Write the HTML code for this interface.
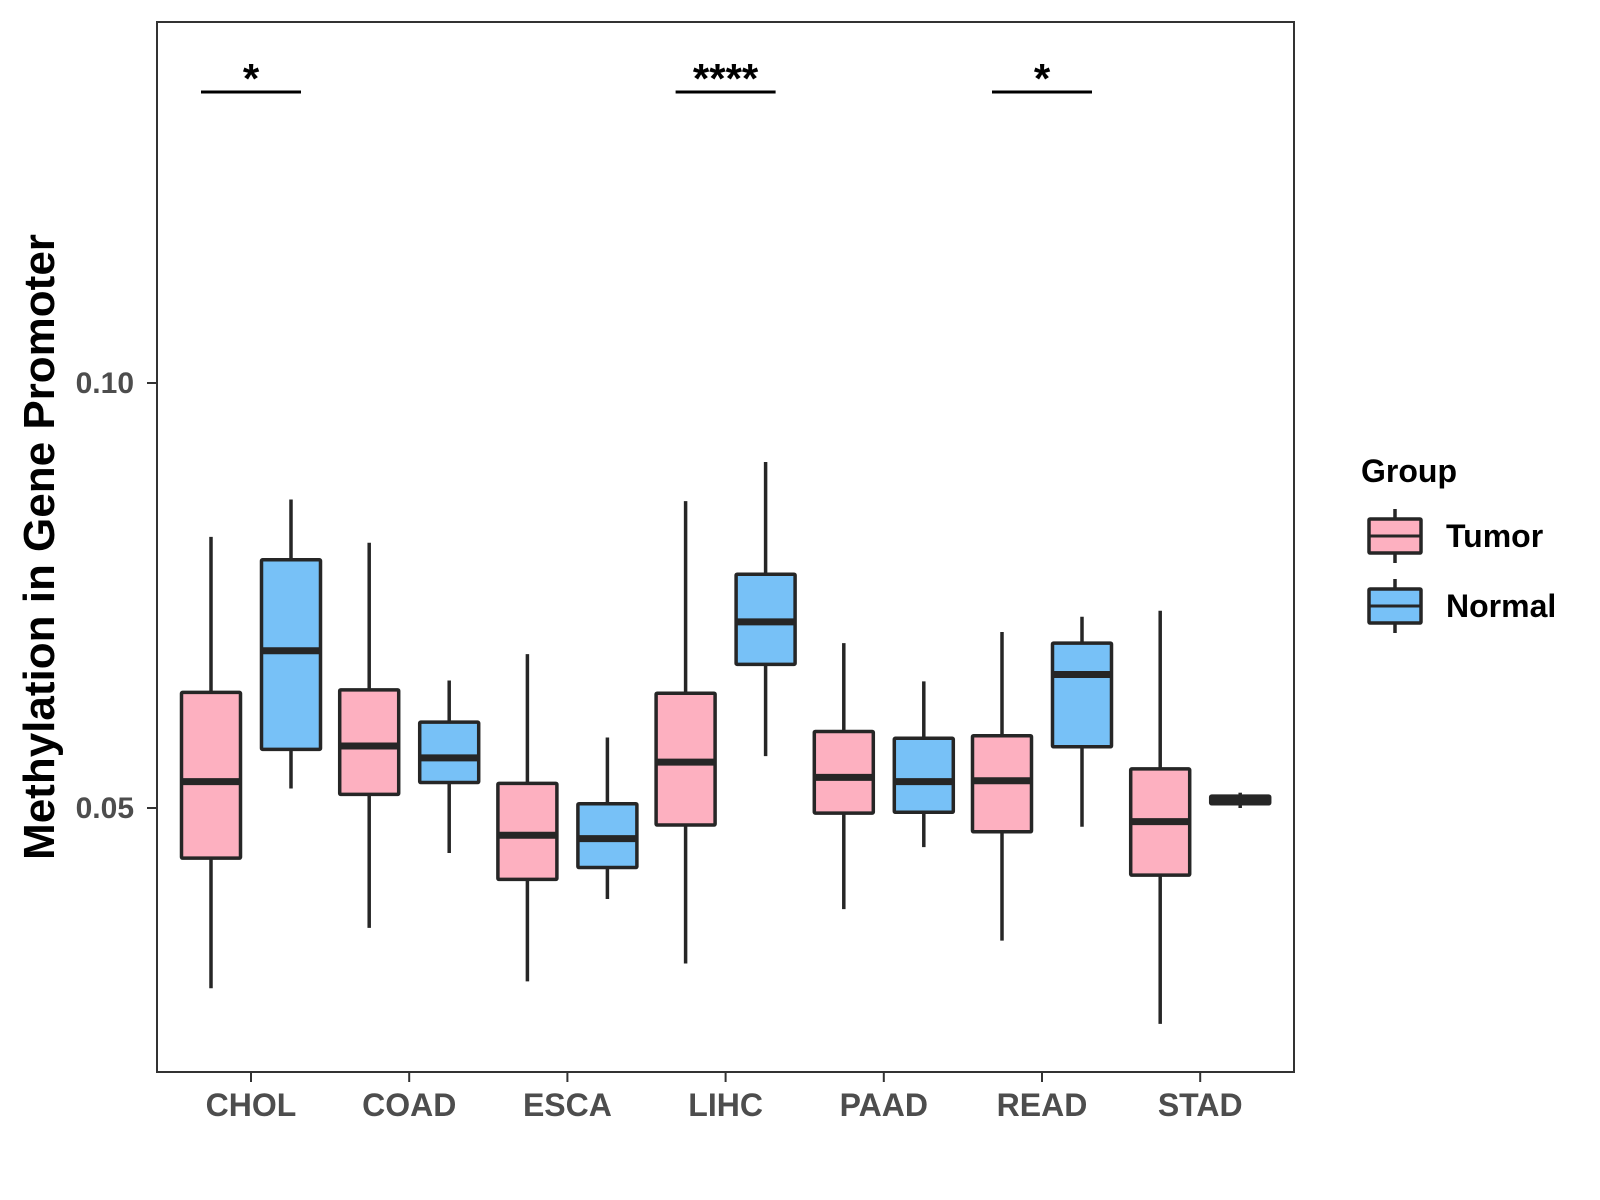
<!DOCTYPE html>
<html><head><meta charset="utf-8"><style>
html,body{margin:0;padding:0;background:#fff;}
svg{display:block;font-family:"Liberation Sans",Arial,sans-serif;}
</style></head><body>
<svg id="chart" width="1600" height="1200" viewBox="0 0 1600 1200">
<rect x="0" y="0" width="1600" height="1200" fill="#fff"/>
<g id="plot"></g>
</svg>
<script>
const categories = ["CHOL","COAD","ESCA","LIHC","PAAD","READ","STAD"];
// [lowWhisker, q1, median, q3, highWhisker]
const tumorStats = [
 [0.0288,0.0441,0.0531,0.0636,0.0819],
 [0.0359,0.0516,0.0573,0.0639,0.0812],
 [0.0296,0.0416,0.0468,0.0529,0.0681],
 [0.0317,0.0480,0.0554,0.0635,0.0861],
 [0.0381,0.0494,0.0536,0.0590,0.0694],
 [0.0344,0.0472,0.0532,0.0585,0.0707],
 [0.0246,0.0421,0.0484,0.0546,0.0732]
];
const normalStats = [
 [0.0523,0.0569,0.0685,0.0792,0.0863],
 [0.0447,0.0530,0.0559,0.0601,0.0650],
 [0.0393,0.0430,0.0464,0.0505,0.0583],
 [0.0561,0.0669,0.0719,0.0775,0.0907],
 [0.0454,0.0495,0.0531,0.0582,0.0649],
 [0.0478,0.0572,0.0657,0.0694,0.0725],
 [0.0500,0.0505,0.0510,0.0514,0.0518]
];
const yTicks = [0.05, 0.10];
const yTickLabels = ["0.05","0.10"];
const sigCategories = ["CHOL","LIHC","READ"];
const sigLabels = ["*","****","*"];

const NS="http://www.w3.org/2000/svg";
const plot=document.getElementById('plot');
const P={l:157,t:22,r:1294,b:1072};
function yScale(v){return 808-(v-0.05)*8500;}
function xScale(i){return 251+i*158.2;}
function mk(tag,attrs,parent){const e=document.createElementNS(NS,tag);for(const k in attrs)e.setAttribute(k,attrs[k]);(parent||plot).appendChild(e);return e;}

const panel=mk('rect',{x:P.l,y:P.t,width:P.r-P.l,height:P.b-P.t,fill:'none',stroke:'#333',"stroke-width":2});



yTicks.forEach((v,i)=>{
 const y=yScale(v);
 const t=mk('line',{x1:P.l-10,x2:P.l,y1:y,y2:y,stroke:'#333',"stroke-width":2});
 
 
 const l=mk('text',{x:P.l-23,y:y+10,"text-anchor":'end',"font-size":30,"font-weight":'bold',fill:'#4d4d4d'});
 l.textContent=yTickLabels[i];
 
 
});
categories.forEach((c,i)=>{
 const x=xScale(i);
 const t=mk('line',{x1:x,x2:x,y1:P.b,y2:P.b+10,stroke:'#333',"stroke-width":2});
 
 
 const l=mk('text',{x:x,y:P.b+44,"text-anchor":'middle',"font-size":32,"font-weight":'bold',fill:'#4d4d4d'});
 l.textContent=c;
 
 
});

function drawBox(s,cx,fill,name){
 const g=mk('g',{});
 
 
 const w=59;
 mk('line',{x1:cx,x2:cx,y1:yScale(s[0]),y2:yScale(s[4]),stroke:'#262626',"stroke-width":3.5},g);
 mk('rect',{x:cx-w/2,y:yScale(s[3]),width:w,height:Math.max(yScale(s[1])-yScale(s[3]),0),fill:fill,stroke:'#262626',"stroke-width":3.5,rx:1},g);
 mk('line',{x1:cx-w/2,x2:cx+w/2,y1:yScale(s[2]),y2:yScale(s[2]),stroke:'#262626',"stroke-width":7},g);
}
categories.forEach((c,i)=>{
 drawBox(tumorStats[i],xScale(i)-40,'#fdb0c0','box-tumor-'+c.toLowerCase());
 drawBox(normalStats[i],xScale(i)+40,'#77c1f7','box-normal-'+c.toLowerCase());
});

sigCategories.forEach((c,k)=>{
 const i=categories.indexOf(c);
 const x=xScale(i);
 const ln=mk('line',{x1:x-50,x2:x+50,y1:92,y2:92,stroke:'#000',"stroke-width":3});
 
 
 const t=mk('text',{x:x,y:93,"text-anchor":'middle',"font-size":42,"font-weight":'bold',fill:'#000'});
 t.textContent=sigLabels[k];
 
 
});

const yt=mk('text',{x:0,y:0,transform:'translate(54,547) rotate(-90)',"text-anchor":'middle',"font-size":44,"font-weight":'bold',fill:'#000'});
yt.textContent='Methylation in Gene Promoter';



const lt=mk('text',{x:1361,y:482,"font-size":32,"font-weight":'bold',fill:'#000'});
lt.textContent='Group';


[["Tumor",'#fdb0c0',536],["Normal",'#77c1f7',606]].forEach(([lab,fill,cy])=>{
 const g=mk('g',{});
 
 
 mk('line',{x1:1395,x2:1395,y1:cy-27,y2:cy+27,stroke:'#262626',"stroke-width":3.5},g);
 mk('rect',{x:1369,y:cy-17,width:52,height:34,fill:fill,stroke:'#262626',"stroke-width":3.5,rx:1},g);
 mk('line',{x1:1369,x2:1421,y1:cy,y2:cy,stroke:'#262626',"stroke-width":3},g);
 const t=mk('text',{x:1446,y:cy+11,"font-size":32,"font-weight":'bold',fill:'#000'},g);
 t.textContent=lab;
});
</script>
</body></html>
